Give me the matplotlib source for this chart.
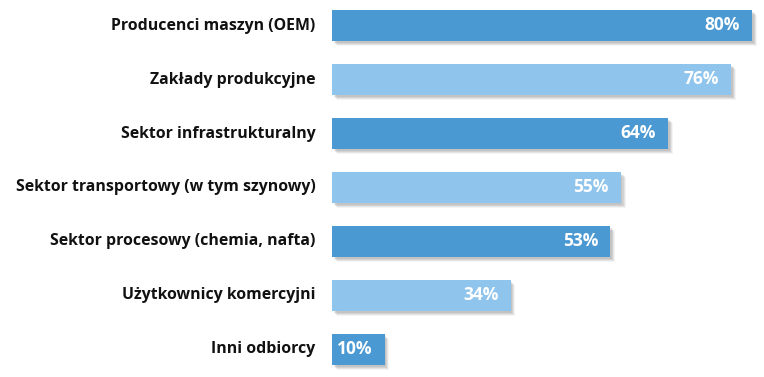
import matplotlib.pyplot as plt
import matplotlib.patheffects as pe

# data
categories = [
    'Producenci maszyn (OEM)',
    'Zakłady produkcyjne',
    'Sektor infrastrukturalny',
    'Sektor transportowy (w tym szynowy)',
    'Sektor procesowy (chemia, nafta)',
    'Użytkownicy komercyjni',
    'Inni odbiorcy',
]
values = [80, 76, 64, 55, 53, 34, 10]

dark = '#4A99D3'
light = '#8FC5EC'
colors = [dark if i % 2 == 0 else light for i in range(len(values))]

plt.rcParams['font.family'] = ['Open Sans', 'DejaVu Sans']

fig = plt.figure(figsize=(7.64, 3.77), dpi=100)
ax = fig.add_axes([332 / 764, 0, 432 / 764, 1])

ypos = list(range(len(values)))
bars = ax.barh(ypos, values, height=31 / 54, color=colors, zorder=2)

# soft drop shadow: a few stacked offset copies
shadow = [pe.SimplePatchShadow(offset=(d, -d), shadow_rgbFace='#777777', alpha=a)
          for d, a in [(3.5, 0.08), (2.8, 0.12), (2.0, 0.16), (1.2, 0.16)]]
for b in bars:
    b.set_path_effects(shadow + [pe.Normal()])

# value labels inside bar ends
for y, v in zip(ypos, values):
    ax.annotate(f'{v}%', xy=(v, y), xytext=(-8.5, 0), textcoords='offset points',
                ha='right', va='center', color='white', fontsize=12.5,
                fontweight='bold', zorder=3)

# category labels to the left
for y, c in zip(ypos, categories):
    ax.annotate(c, xy=(0, y), xytext=(-12, 0), textcoords='offset points',
                ha='right', va='center', color='#111111', fontsize=11.4,
                fontweight='bold', annotation_clip=False)

ax.set_xlim(0, 432 / 5.25)
ax.set_ylim((377 - 25.5) / 54, -25.5 / 54)
ax.axis('off')

fig.savefig('out.png', dpi=100)
